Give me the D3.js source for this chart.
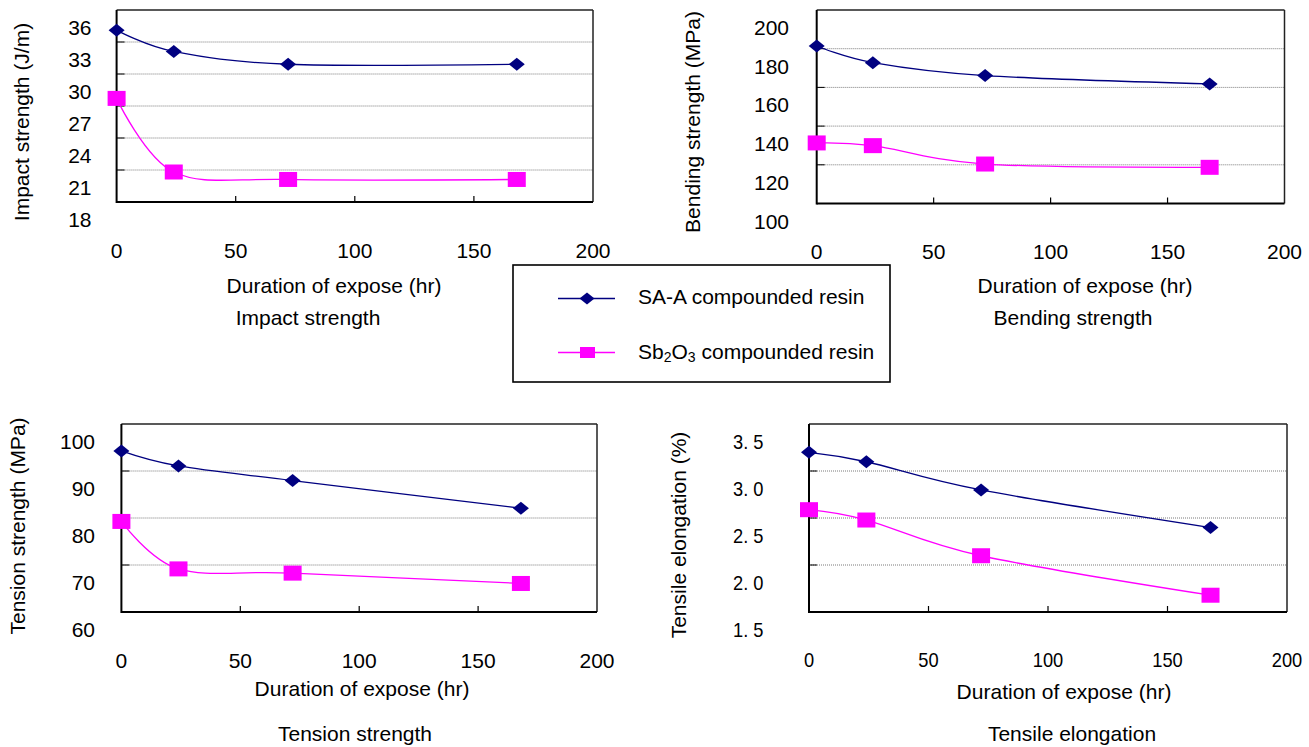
<!DOCTYPE html>
<html><head><meta charset="utf-8">
<script src="https://cdn.jsdelivr.net/npm/d3@7"></script>
<style>
body{margin:0;background:#fff}
svg{display:block}
text{font-family:"Liberation Sans",Arial,Helvetica,sans-serif;fill:#000}
</style>
</head><body>
<svg id="chart" width="1309" height="747"></svg>
<script>
// ---------------- data ----------------
const hours = [0, 24, 72, 168];
const xTicks = [0, 50, 100, 150, 200];

const impactSAA  = [35.8, 33.8, 32.6, 32.6];
const impactSb   = [29.4, 22.5, 21.8, 21.8];
const bendingSAA = [190.7, 182.1, 175.4, 171.1];
const bendingSb  = [140.6, 139.2, 129.7, 128.0];
const tensionSAA = [98.1, 94.9, 91.8, 85.9];
const tensionSb  = [83.1, 73.0, 72.1, 69.9];
const elongSAA   = [3.39, 3.29, 2.99, 2.59];
const elongSb    = [2.78, 2.67, 2.29, 1.87];

const impactTicks  = [18, 21, 24, 27, 30, 33, 36];
const bendingTicks = [100, 120, 140, 160, 180, 200];
const tensionTicks = [60, 70, 80, 90, 100];
const elongTicks   = [1.5, 2.0, 2.5, 3.0, 3.5];
const elongTickLabels = ["1. 5", "2. 0", "2. 5", "3. 0", "3. 5"];

const yTitles = ["Impact strength (J/m)", "Bending strength (MPa)", "Tension strength (MPa)", "Tensile elongation (%)"];
const panelTitles = ["Impact strength", "Bending strength", "Tension strength", "Tensile elongation"];
const xTitle = "Duration of expose (hr)";
const seriesNames = ["SA-A compounded resin", "compounded resin"];

// ---------------- layout ----------------
const OFF = 18;      // label / gridline offset seen in the original
const navy = "#000080", magenta = "#FF00FF";

const panels = [
  {a: impactSAA, b: impactSb, ticks: impactTicks, labels: impactTicks.map(String), sx: 1,
   left: 116.6, right: 593, top: 10, bottom: 202, tickX: 91.5,
   yT: [29, 122], xLab: 258, xT: [334, 293], sub: [308, 325]},
  {a: bendingSAA, b: bendingSb, ticks: bendingTicks, labels: bendingTicks.map(String), sx: 1,
   left: 816.7, right: 1284.5, top: 10, bottom: 203.5, tickX: 789,
   yT: [700, 122], xLab: 259, xT: [1085, 293], sub: [1073, 325]},
  {a: tensionSAA, b: tensionSb, ticks: tensionTicks, labels: tensionTicks.map(String), sx: 1,
   left: 121.4, right: 597, top: 424, bottom: 612, tickX: 95,
   yT: [25, 526], xLab: 668, xT: [362, 696], sub: [355, 741]},
  {a: elongSAA, b: elongSb, ticks: elongTicks, labels: elongTickLabels, sx: 0.87,
   left: 809, right: 1287, top: 424, bottom: 612, tickX: 763.5,
   yT: [686, 535], xLab: 667, xT: [1064, 699], sub: [1072, 741]}
];

const svg = d3.select("#chart");

function label(g, x, y, str, anchor, sx) {
  return g.append("text")
    .attr("transform", `translate(${x},${y}) scale(${sx || 1},1)`)
    .attr("text-anchor", anchor || "middle")
    .attr("font-size", 21)
    .text(str);
}

const diamond = "M0,-6.5L8,0L0,6.5L-8,0Z";
const diamondLegend = "M0,-6L7.5,0L0,6L-7.5,0Z";

panels.forEach((p, i) => {
  const g = svg.append("g");
  const x = d3.scaleLinear().domain([xTicks[0], xTicks[xTicks.length - 1]]).range([p.left, p.right]);
  const ext = d3.extent(p.ticks);
  const y = d3.scaleLinear().domain(ext).range([p.bottom + OFF, p.top + OFF]);

  // gridlines (inner ticks), drawn shifted up like the original
  const inner = p.ticks.filter(t => t !== ext[0] && t !== ext[1]);
  g.selectAll(".grid").data(inner).join("line")
    .attr("x1", p.left).attr("x2", p.right)
    .attr("y1", d => y(d) - OFF).attr("y2", d => y(d) - OFF)
    .attr("stroke", "#7a7a7a").attr("stroke-width", 1).attr("stroke-dasharray", "1,1");
  g.selectAll(".ytk").data(inner).join("line")
    .attr("x1", p.left).attr("x2", p.left + 8)
    .attr("y1", d => y(d) - OFF).attr("y2", d => y(d) - OFF)
    .attr("stroke", "#000").attr("stroke-width", 1);

  // frame
  g.append("line").attr("x1", p.left).attr("x2", p.right).attr("y1", p.top).attr("y2", p.top)
    .attr("stroke", "#222").attr("stroke-width", 1.5);
  g.append("line").attr("x1", p.right).attr("x2", p.right).attr("y1", p.top).attr("y2", p.bottom)
    .attr("stroke", "#222").attr("stroke-width", 1.5);
  g.append("line").attr("x1", p.left).attr("x2", p.left).attr("y1", p.top).attr("y2", p.bottom + 1)
    .attr("stroke", "#000").attr("stroke-width", 2);
  g.append("line").attr("x1", p.left).attr("x2", p.right).attr("y1", p.bottom).attr("y2", p.bottom)
    .attr("stroke", "#000").attr("stroke-width", 2);

  // x tick marks (pointing up)
  g.selectAll(".xtk").data(xTicks.slice(1, -1)).join("line")
    .attr("x1", d => x(d)).attr("x2", d => x(d))
    .attr("y1", p.bottom).attr("y2", p.bottom - 6)
    .attr("stroke", "#000").attr("stroke-width", 1.2);

  // tick labels
  p.ticks.forEach((t, k) => label(g, p.tickX, y(t) + 7, p.labels[k], "end", p.sx));
  xTicks.forEach(t => label(g, x(t), p.xLab, String(t), "middle", p.sx));

  // titles
  g.append("text")
    .attr("transform", `translate(${p.yT[0]},${p.yT[1]}) rotate(-90)`)
    .attr("text-anchor", "middle").attr("font-size", 21).text(yTitles[i]);
  label(g, p.xT[0], p.xT[1], xTitle, "middle");
  label(g, p.sub[0], p.sub[1], panelTitles[i], "middle");

  // series
  const line = d3.line().x((d, k) => x(hours[k])).y(d => y(d)).curve(d3.curveCardinal.tension(0));
  g.append("path").attr("d", line(p.a)).attr("fill", "none").attr("stroke", navy).attr("stroke-width", 1.3);
  g.append("path").attr("d", line(p.b)).attr("fill", "none").attr("stroke", magenta).attr("stroke-width", 1.3);

  g.selectAll(".dia").data(p.a).join("path")
    .attr("d", diamond)
    .attr("transform", (d, k) => `translate(${x(hours[k])},${y(d)})`)
    .attr("fill", navy);
  g.selectAll(".sq").data(p.b).join("rect")
    .attr("x", (d, k) => x(hours[k]) - 9).attr("y", d => y(d) - 7.5)
    .attr("width", 18).attr("height", 15)
    .attr("fill", magenta);
});

// ---------------- legend ----------------
const lg = svg.append("g");
lg.append("rect").attr("x", 513).attr("y", 265).attr("width", 377).attr("height", 117)
  .attr("fill", "#fff").attr("stroke", "#000").attr("stroke-width", 1.6);
lg.append("line").attr("x1", 558).attr("x2", 615).attr("y1", 298.5).attr("y2", 298.5)
  .attr("stroke", navy).attr("stroke-width", 1.3);
lg.append("path").attr("d", diamondLegend).attr("transform", "translate(587,298.5)").attr("fill", navy);
lg.append("line").attr("x1", 558).attr("x2", 615).attr("y1", 352.5).attr("y2", 352.5)
  .attr("stroke", magenta).attr("stroke-width", 1.3);
lg.append("rect").attr("x", 580).attr("y", 347).attr("width", 15).attr("height", 11).attr("fill", magenta);

lg.append("text").attr("x", 638).attr("y", 304).attr("font-size", 21).text(seriesNames[0]);
const t2 = lg.append("text").attr("x", 638).attr("y", 359).attr("font-size", 21);
t2.append("tspan").text("Sb");
t2.append("tspan").attr("font-size", 14).attr("dy", 3).text("2");
t2.append("tspan").attr("dy", -3).text("O");
t2.append("tspan").attr("font-size", 14).attr("dy", 3).text("3");
t2.append("tspan").attr("dy", -3).text(" " + seriesNames[1]);
</script>
</body></html>
